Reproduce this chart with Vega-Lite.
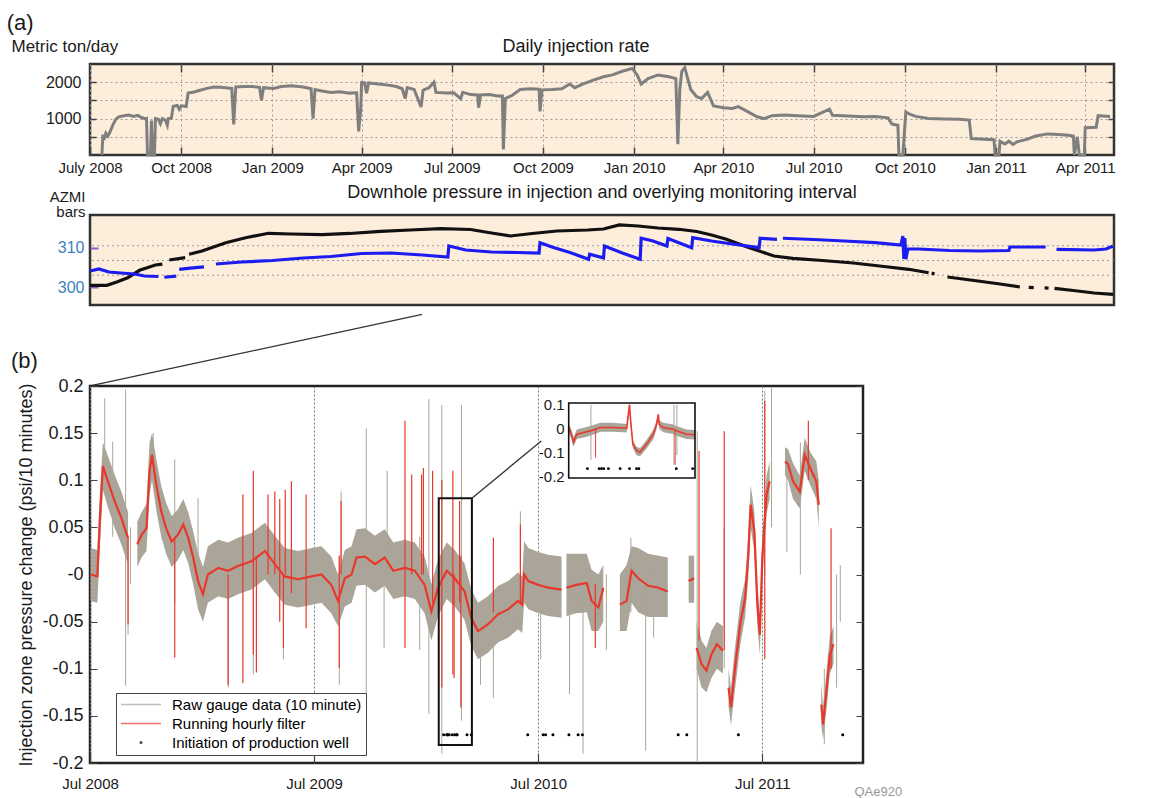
{
"$schema": "https://vega.github.io/schema/vega-lite/v6.json",
"background": "white",
"padding": {"left": 6, "top": 11, "right": 5, "bottom": 1},
"bounds": "flush",
"spacing": 10,
"title": {"text": "(a)", "anchor": "start", "frame": "bounds", "fontSize": 22, "fontWeight": "normal", "offset": 1, "dx": -3, "color": "#1a1a1a"},
"config": {
  "font": "Liberation Sans",
  "axis": {"labelFont": "Liberation Sans", "titleFont": "Liberation Sans", "titleFontWeight": "normal", "labelColor": "#1a1a1a", "titleColor": "#1a1a1a", "tickColor": "#444"},
  "title": {"font": "Liberation Sans", "fontWeight": "normal", "color": "#1a1a1a"},
  "legend": {"labelFont": "Liberation Sans"}
},
"datasets": {
  "rate": [
    {"d":"2008-07-13","v":0},{"d":"2008-07-14","v":560},{"d":"2008-07-15","v":420},{"d":"2008-07-17","v":600},{"d":"2008-07-19","v":520},{"d":"2008-07-21","v":620},{"d":"2008-07-24","v":820},{"d":"2008-07-27","v":980},{"d":"2008-07-30","v":1050},{"d":"2008-08-04","v":1080},{"d":"2008-08-09","v":1100},{"d":"2008-08-14","v":1060},{"d":"2008-08-18","v":1090},{"d":"2008-08-22","v":1030},{"d":"2008-08-26","v":990},{"d":"2008-08-27","v":1000},{"d":"2008-08-28","v":0},{"d":"2008-08-31","v":0},{"d":"2008-09-01","v":950},{"d":"2008-09-02","v":0},{"d":"2008-09-04","v":0},{"d":"2008-09-05","v":1000},{"d":"2008-09-08","v":980},{"d":"2008-09-10","v":860},{"d":"2008-09-12","v":1000},{"d":"2008-09-15","v":960},{"d":"2008-09-17","v":820},{"d":"2008-09-18","v":1000},{"d":"2008-09-21","v":1010},{"d":"2008-09-23","v":1340},{"d":"2008-09-27","v":1360},{"d":"2008-09-29","v":1260},{"d":"2008-10-01","v":1350},{"d":"2008-10-06","v":1330},{"d":"2008-10-08","v":1700},{"d":"2008-10-14","v":1730},{"d":"2008-10-20","v":1780},{"d":"2008-10-27","v":1830},{"d":"2008-11-03","v":1870},{"d":"2008-11-10","v":1860},{"d":"2008-11-17","v":1840},{"d":"2008-11-21","v":1830},{"d":"2008-11-23","v":840},{"d":"2008-11-25","v":1870},{"d":"2008-12-03","v":1880},{"d":"2008-12-12","v":1880},{"d":"2008-12-19","v":1860},{"d":"2008-12-21","v":1500},{"d":"2008-12-23","v":1850},{"d":"2009-01-02","v":1830},{"d":"2009-01-10","v":1880},{"d":"2009-01-20","v":1900},{"d":"2009-02-01","v":1870},{"d":"2009-02-09","v":1820},{"d":"2009-02-11","v":1000},{"d":"2009-02-13","v":1800},{"d":"2009-02-20","v":1760},{"d":"2009-03-01","v":1720},{"d":"2009-03-10","v":1740},{"d":"2009-03-20","v":1700},{"d":"2009-03-27","v":1710},{"d":"2009-03-29","v":650},{"d":"2009-03-31","v":1200},{"d":"2009-04-01","v":1990},{"d":"2009-04-04","v":1980},{"d":"2009-04-06","v":1700},{"d":"2009-04-08","v":1980},{"d":"2009-04-18","v":1950},{"d":"2009-04-28","v":1920},{"d":"2009-05-06","v":1880},{"d":"2009-05-12","v":1820},{"d":"2009-05-15","v":1550},{"d":"2009-05-17","v":1850},{"d":"2009-05-24","v":1800},{"d":"2009-05-31","v":1320},{"d":"2009-06-02","v":1780},{"d":"2009-06-08","v":1850},{"d":"2009-06-13","v":2000},{"d":"2009-06-15","v":1720},{"d":"2009-06-25","v":1700},{"d":"2009-07-03","v":1710},{"d":"2009-07-10","v":1550},{"d":"2009-07-12","v":1720},{"d":"2009-07-20","v":1660},{"d":"2009-07-27","v":1650},{"d":"2009-07-28","v":1300},{"d":"2009-07-30","v":1650},{"d":"2009-08-08","v":1660},{"d":"2009-08-16","v":1620},{"d":"2009-08-21","v":1620},{"d":"2009-08-22","v":150},{"d":"2009-08-24","v":1550},{"d":"2009-08-31","v":1640},{"d":"2009-09-08","v":1800},{"d":"2009-09-18","v":1820},{"d":"2009-09-27","v":1810},{"d":"2009-09-28","v":1200},{"d":"2009-09-30","v":1790},{"d":"2009-10-10","v":1800},{"d":"2009-10-20","v":1820},{"d":"2009-10-28","v":1950},{"d":"2009-11-02","v":1850},{"d":"2009-11-10","v":1950},{"d":"2009-11-20","v":2050},{"d":"2009-12-01","v":2150},{"d":"2009-12-10","v":2200},{"d":"2009-12-20","v":2300},{"d":"2009-12-30","v":2380},{"d":"2010-01-04","v":2200},{"d":"2010-01-08","v":1950},{"d":"2010-01-15","v":2100},{"d":"2010-01-25","v":2200},{"d":"2010-02-05","v":2150},{"d":"2010-02-12","v":2100},{"d":"2010-02-14","v":300},{"d":"2010-02-16","v":1800},{"d":"2010-02-18","v":2300},{"d":"2010-02-21","v":2400},{"d":"2010-02-24","v":2100},{"d":"2010-02-27","v":1800},{"d":"2010-03-05","v":1600},{"d":"2010-03-10","v":1550},{"d":"2010-03-16","v":1720},{"d":"2010-03-22","v":1350},{"d":"2010-04-01","v":1300},{"d":"2010-04-10","v":1280},{"d":"2010-04-16","v":1330},{"d":"2010-04-25","v":1200},{"d":"2010-05-05","v":1050},{"d":"2010-05-12","v":1000},{"d":"2010-05-20","v":1080},{"d":"2010-06-01","v":1100},{"d":"2010-06-15","v":1080},{"d":"2010-07-01","v":1060},{"d":"2010-07-17","v":1260},{"d":"2010-07-20","v":1090},{"d":"2010-08-05","v":1070},{"d":"2010-08-20","v":1050},{"d":"2010-09-01","v":1060},{"d":"2010-09-14","v":1020},{"d":"2010-09-18","v":850},{"d":"2010-09-24","v":820},{"d":"2010-09-25","v":0},{"d":"2010-09-29","v":0},{"d":"2010-10-02","v":1180},{"d":"2010-10-06","v":1120},{"d":"2010-10-12","v":1060},{"d":"2010-10-25","v":1000},{"d":"2010-11-10","v":990},{"d":"2010-11-25","v":980},{"d":"2010-12-05","v":960},{"d":"2010-12-07","v":450},{"d":"2010-12-20","v":430},{"d":"2010-12-30","v":420},{"d":"2010-12-31","v":0},{"d":"2011-01-04","v":0},{"d":"2011-01-05","v":380},{"d":"2011-01-10","v":300},{"d":"2011-01-14","v":380},{"d":"2011-01-18","v":290},{"d":"2011-01-22","v":360},{"d":"2011-02-01","v":430},{"d":"2011-02-10","v":520},{"d":"2011-02-22","v":580},{"d":"2011-03-05","v":560},{"d":"2011-03-15","v":540},{"d":"2011-03-20","v":520},{"d":"2011-03-21","v":0},{"d":"2011-03-24","v":500},{"d":"2011-03-26","v":0},{"d":"2011-03-31","v":0},{"d":"2011-04-01","v":750},{"d":"2011-04-12","v":760},{"d":"2011-04-14","v":1080},{"d":"2011-04-26","v":1060}
  ],
  "azmi": [
    {"d":"2008-07-01","v":304.18,"s":1},{"d":"2008-07-10","v":304.68,"s":1},{"d":"2008-07-20","v":303.92,"s":1},{"d":"2008-08-01","v":303.67,"s":1},{"d":"2008-08-15","v":303.42,"s":1},{"d":"2008-08-25","v":302.91,"s":1},{"d":"2008-09-08","v":302.78,"s":1},
    {"d":"2008-09-14","v":302.6,"s":2},{"d":"2008-09-26","v":302.9,"s":2},
    {"d":"2008-09-29","v":304.6,"s":3},{"d":"2008-10-10","v":304.9,"s":3},{"d":"2008-10-24","v":305.2,"s":3},
    {"d":"2008-11-05","v":305.95,"s":4},{"d":"2008-12-01","v":306.46,"s":4},{"d":"2009-01-01","v":306.84,"s":4},{"d":"2009-02-01","v":307.47,"s":4},{"d":"2009-03-01","v":307.85,"s":4},{"d":"2009-04-01","v":308.61,"s":4},{"d":"2009-05-01","v":308.73,"s":4},{"d":"2009-06-01","v":308.23,"s":4},{"d":"2009-06-27","v":307.72,"s":4},{"d":"2009-06-28","v":310.5,"s":4},{"d":"2009-07-15","v":309.49,"s":4},{"d":"2009-08-10","v":308.99,"s":4},{"d":"2009-09-05","v":308.86,"s":4},{"d":"2009-09-27","v":308.73,"s":4},{"d":"2009-09-28","v":311.34,"s":4},{"d":"2009-10-10","v":310.25,"s":4},{"d":"2009-10-29","v":308.8,"s":4},{"d":"2009-11-16","v":307.14,"s":4},{"d":"2009-11-17","v":308.4,"s":4},{"d":"2009-12-01","v":307.5,"s":4},{"d":"2009-12-02","v":310.5,"s":4},{"d":"2009-12-20","v":308.73,"s":4},{"d":"2010-01-07","v":307.14,"s":4},{"d":"2010-01-08","v":312.46,"s":4},{"d":"2010-01-20","v":311.77,"s":4},{"d":"2010-02-03","v":310.5,"s":4},{"d":"2010-02-04","v":312.4,"s":4},{"d":"2010-02-28","v":310.08,"s":4},{"d":"2010-03-01","v":312.6,"s":4},{"d":"2010-03-20","v":311.77,"s":4},{"d":"2010-04-10","v":311.01,"s":4},{"d":"2010-05-07","v":310.08,"s":4},{"d":"2010-05-08","v":312.46,"s":4},{"d":"2010-05-25","v":312.2,"s":4},
    {"d":"2010-05-31","v":312.46,"s":5},{"d":"2010-07-01","v":312.15,"s":5},{"d":"2010-08-01","v":311.77,"s":5},{"d":"2010-09-01","v":311.34,"s":5},{"d":"2010-09-27","v":310.76,"s":5},{"d":"2010-09-29","v":313.04,"s":5},{"d":"2010-09-30","v":307.2,"s":5},{"d":"2010-10-01","v":312.5,"s":5},{"d":"2010-10-02","v":307.14,"s":5},{"d":"2010-10-04","v":309.75,"s":5},{"d":"2010-10-15","v":309.75,"s":5},{"d":"2010-11-15","v":309.37,"s":5},{"d":"2010-12-15","v":309.24,"s":5},{"d":"2011-01-14","v":309.37,"s":5},{"d":"2011-01-15","v":310.25,"s":5},{"d":"2011-02-20","v":310.25,"s":5},
    {"d":"2011-03-03","v":309.67,"s":6},{"d":"2011-04-10","v":309.49,"s":6},{"d":"2011-04-22","v":309.75,"s":6},{"d":"2011-04-29","v":310.5,"s":6}
  ],
  "iz": [
    {"d":"2008-07-01","v":308,"s":1},{"d":"2008-07-18","v":308,"s":1},{"d":"2008-07-28","v":313.6,"s":1},{"d":"2008-08-08","v":320.8,"s":1},{"d":"2008-08-20","v":333.4,"s":1},{"d":"2008-09-05","v":342.4,"s":1},{"d":"2008-09-12","v":344,"s":1},
    {"d":"2008-09-19","v":350.8,"s":2},{"d":"2008-10-05","v":355,"s":2},
    {"d":"2008-10-09","v":360.5,"s":3},{"d":"2008-10-22","v":366,"s":3},{"d":"2008-11-15","v":380.2,"s":3},{"d":"2008-12-05","v":388.6,"s":3},{"d":"2008-12-28","v":396.1,"s":3},{"d":"2009-01-20","v":394.9,"s":3},{"d":"2009-02-20","v":394,"s":3},{"d":"2009-03-20","v":395.8,"s":3},{"d":"2009-04-20","v":399.2,"s":3},{"d":"2009-05-20","v":401.7,"s":3},{"d":"2009-06-20","v":403.9,"s":3},{"d":"2009-07-20","v":402.5,"s":3},{"d":"2009-08-10","v":396.6,"s":3},{"d":"2009-08-29","v":391.5,"s":3},{"d":"2009-09-20","v":395.8,"s":3},{"d":"2009-10-15","v":400,"s":3},{"d":"2009-11-15","v":401.7,"s":3},{"d":"2009-12-01","v":403.4,"s":3},{"d":"2009-12-17","v":410.2,"s":3},{"d":"2010-01-05","v":408.5,"s":3},{"d":"2010-01-25","v":405.1,"s":3},{"d":"2010-02-15","v":402.9,"s":3},{"d":"2010-03-05","v":399.2,"s":3},{"d":"2010-03-20","v":393.2,"s":3},{"d":"2010-04-04","v":385.9,"s":3},{"d":"2010-04-25","v":372.9,"s":3},{"d":"2010-05-22","v":357.6,"s":3},{"d":"2010-06-10","v":353.7,"s":3},{"d":"2010-07-10","v":350,"s":3},{"d":"2010-08-10","v":345.8,"s":3},{"d":"2010-09-10","v":339.8,"s":3},{"d":"2010-10-05","v":335.1,"s":3},{"d":"2010-10-25","v":329.3,"s":3},
    {"d":"2010-10-28","v":328.2,"s":4},{"d":"2010-10-31","v":327.8,"s":4},
    {"d":"2010-11-13","v":322,"s":5},{"d":"2010-12-10","v":316.1,"s":5},{"d":"2011-01-05","v":310.2,"s":5},{"d":"2011-01-25","v":305.1,"s":5},
    {"d":"2011-02-03","v":304.5,"s":6},{"d":"2011-02-08","v":304.0,"s":6},
    {"d":"2011-02-19","v":303.5,"s":7},{"d":"2011-02-23","v":303.2,"s":7},
    {"d":"2011-03-01","v":302.9,"s":8},{"d":"2011-03-20","v":299.2,"s":8},{"d":"2011-04-10","v":294.9,"s":8},{"d":"2011-04-29","v":292.7,"s":8}
  ],
  "red": [
    {"d":"2008-07-02","r":0.0,"lo":-0.028,"hi":0.028,"s":1},{"d":"2008-07-13","r":-0.002,"lo":-0.03,"hi":0.026,"s":1},{"d":"2008-07-17","r":0.057,"lo":0.03,"hi":0.085,"s":1},{"d":"2008-07-22","r":0.115,"lo":0.09,"hi":0.14,"s":1},{"d":"2008-07-30","r":0.099,"lo":0.072,"hi":0.126,"s":1},{"d":"2008-08-10","r":0.078,"lo":0.05,"hi":0.106,"s":1},{"d":"2008-08-21","r":0.06,"lo":0.032,"hi":0.088,"s":1},{"d":"2008-08-28","r":0.046,"lo":0.018,"hi":0.074,"s":1},{"d":"2008-09-01","r":0.039,"lo":0.012,"hi":0.066,"s":1},
    {"d":"2008-09-16","r":0.032,"lo":0.008,"hi":0.056,"s":2},{"d":"2008-09-23","r":0.042,"lo":0.018,"hi":0.066,"s":2},{"d":"2008-10-01","r":0.049,"lo":0.025,"hi":0.075,"s":2},{"d":"2008-10-06","r":0.11,"lo":0.085,"hi":0.14,"s":2},{"d":"2008-10-10","r":0.127,"lo":0.1,"hi":0.15,"s":2},{"d":"2008-10-17","r":0.095,"lo":0.068,"hi":0.122,"s":2},{"d":"2008-10-25","r":0.067,"lo":0.04,"hi":0.094,"s":2},{"d":"2008-11-02","r":0.049,"lo":0.022,"hi":0.076,"s":2},{"d":"2008-11-11","r":0.035,"lo":0.008,"hi":0.062,"s":2},{"d":"2008-11-21","r":0.042,"lo":0.015,"hi":0.069,"s":2},{"d":"2008-11-30","r":0.053,"lo":0.026,"hi":0.08,"s":2},{"d":"2008-12-08","r":0.039,"lo":0.012,"hi":0.066,"s":2},{"d":"2008-12-16","r":0.018,"lo":-0.01,"hi":0.046,"s":2},{"d":"2008-12-24","r":-0.007,"lo":-0.037,"hi":0.023,"s":2},{"d":"2009-01-01","r":-0.021,"lo":-0.05,"hi":0.008,"s":2},{"d":"2009-01-09","r":0.0,"lo":-0.03,"hi":0.03,"s":2},{"d":"2009-01-26","r":0.007,"lo":-0.023,"hi":0.037,"s":2},{"d":"2009-02-11","r":0.004,"lo":-0.026,"hi":0.034,"s":2},{"d":"2009-02-27","r":0.009,"lo":-0.021,"hi":0.039,"s":2},{"d":"2009-03-21","r":0.014,"lo":-0.016,"hi":0.044,"s":2},{"d":"2009-04-12","r":0.025,"lo":-0.005,"hi":0.055,"s":2},{"d":"2009-04-28","r":0.011,"lo":-0.019,"hi":0.041,"s":2},{"d":"2009-05-14","r":-0.002,"lo":-0.032,"hi":0.028,"s":2},{"d":"2009-06-05","r":-0.005,"lo":-0.035,"hi":0.025,"s":2},{"d":"2009-06-27","r":-0.002,"lo":-0.032,"hi":0.028,"s":2},{"d":"2009-07-13","r":0.0,"lo":-0.03,"hi":0.03,"s":2},{"d":"2009-07-29","r":-0.011,"lo":-0.041,"hi":0.019,"s":2},{"d":"2009-08-09","r":-0.028,"lo":-0.055,"hi":0.0,"s":2},{"d":"2009-08-20","r":-0.004,"lo":-0.034,"hi":0.026,"s":2},{"d":"2009-08-31","r":0.0,"lo":-0.03,"hi":0.03,"s":2},{"d":"2009-09-08","r":0.018,"lo":-0.012,"hi":0.048,"s":2},{"d":"2009-09-22","r":0.019,"lo":-0.011,"hi":0.049,"s":2},{"d":"2009-10-08","r":0.011,"lo":-0.019,"hi":0.041,"s":2},{"d":"2009-10-24","r":0.018,"lo":-0.012,"hi":0.048,"s":2},{"d":"2009-11-07","r":0.004,"lo":-0.026,"hi":0.034,"s":2},{"d":"2009-11-26","r":0.007,"lo":-0.023,"hi":0.037,"s":2},{"d":"2009-12-12","r":0.004,"lo":-0.026,"hi":0.034,"s":2},{"d":"2009-12-28","r":-0.011,"lo":-0.041,"hi":0.019,"s":2},{"d":"2010-01-08","r":-0.039,"lo":-0.07,"hi":-0.01,"s":2},{"d":"2010-01-19","r":-0.014,"lo":-0.044,"hi":0.016,"s":2},{"d":"2010-02-02","r":0.004,"lo":-0.026,"hi":0.034,"s":2},{"d":"2010-02-15","r":-0.004,"lo":-0.034,"hi":0.026,"s":2},{"d":"2010-03-03","r":-0.018,"lo":-0.048,"hi":0.012,"s":2},{"d":"2010-03-14","r":-0.046,"lo":-0.076,"hi":-0.016,"s":2},{"d":"2010-03-25","r":-0.06,"lo":-0.09,"hi":-0.03,"s":2},{"d":"2010-04-10","r":-0.053,"lo":-0.083,"hi":-0.023,"s":2},{"d":"2010-04-27","r":-0.042,"lo":-0.072,"hi":-0.012,"s":2},{"d":"2010-05-13","r":-0.037,"lo":-0.067,"hi":-0.007,"s":2},{"d":"2010-05-29","r":-0.028,"lo":-0.058,"hi":0.002,"s":2},{"d":"2010-06-05","r":-0.032,"lo":-0.062,"hi":-0.002,"s":2},{"d":"2010-06-08","r":0.0,"lo":-0.03,"hi":0.035,"s":2},{"d":"2010-06-15","r":-0.007,"lo":-0.037,"hi":0.028,"s":2},{"d":"2010-07-01","r":-0.011,"lo":-0.041,"hi":0.024,"s":2},{"d":"2010-07-17","r":-0.014,"lo":-0.044,"hi":0.021,"s":2},{"d":"2010-08-08","r":-0.016,"lo":-0.046,"hi":0.019,"s":2},
    {"d":"2010-08-16","r":-0.014,"lo":-0.044,"hi":0.022,"s":3},{"d":"2010-09-01","r":-0.011,"lo":-0.041,"hi":0.022,"s":3},{"d":"2010-09-18","r":-0.009,"lo":-0.04,"hi":0.022,"s":3},{"d":"2010-09-26","r":-0.028,"lo":-0.06,"hi":0.005,"s":3},{"d":"2010-10-07","r":-0.035,"lo":-0.06,"hi":0.0,"s":3},{"d":"2010-10-15","r":-0.014,"lo":-0.05,"hi":0.01,"s":3},
    {"d":"2010-11-11","r":-0.032,"lo":-0.06,"hi":0.0,"s":4},{"d":"2010-11-22","r":-0.028,"lo":-0.06,"hi":0.01,"s":4},{"d":"2010-11-30","r":0.004,"lo":-0.03,"hi":0.03,"s":4},{"d":"2010-12-11","r":-0.004,"lo":-0.04,"hi":0.028,"s":4},{"d":"2010-12-27","r":-0.012,"lo":-0.045,"hi":0.022,"s":4},{"d":"2011-01-13","r":-0.014,"lo":-0.045,"hi":0.02,"s":4},{"d":"2011-01-28","r":-0.018,"lo":-0.045,"hi":0.018,"s":4},
    {"d":"2011-03-03","r":-0.007,"lo":-0.03,"hi":0.02,"s":5},{"d":"2011-03-12","r":-0.004,"lo":-0.03,"hi":0.02,"s":5},
    {"d":"2011-03-16","r":-0.078,"lo":-0.1,"hi":-0.05,"s":6},{"d":"2011-03-24","r":-0.095,"lo":-0.12,"hi":-0.07,"s":6},{"d":"2011-04-01","r":-0.102,"lo":-0.125,"hi":-0.078,"s":6},{"d":"2011-04-09","r":-0.085,"lo":-0.11,"hi":-0.06,"s":6},{"d":"2011-04-18","r":-0.074,"lo":-0.1,"hi":-0.05,"s":6},{"d":"2011-04-28","r":-0.081,"lo":-0.105,"hi":-0.055,"s":6},
    {"d":"2011-05-07","r":-0.12,"lo":-0.14,"hi":-0.1,"s":7},{"d":"2011-05-11","r":-0.141,"lo":-0.16,"hi":-0.12,"s":7},{"d":"2011-05-17","r":-0.102,"lo":-0.125,"hi":-0.08,"s":7},{"d":"2011-05-26","r":-0.053,"lo":-0.075,"hi":-0.03,"s":7},{"d":"2011-06-03","r":-0.025,"lo":-0.045,"hi":-0.005,"s":7},{"d":"2011-06-08","r":0.018,"lo":-0.005,"hi":0.04,"s":7},{"d":"2011-06-12","r":0.074,"lo":0.05,"hi":0.095,"s":7},{"d":"2011-06-18","r":0.046,"lo":0.025,"hi":0.068,"s":7},{"d":"2011-06-23","r":-0.032,"lo":-0.055,"hi":-0.01,"s":7},{"d":"2011-06-27","r":-0.064,"lo":-0.085,"hi":-0.045,"s":7},{"d":"2011-07-01","r":0.018,"lo":-0.005,"hi":0.04,"s":7},{"d":"2011-07-08","r":0.085,"lo":0.065,"hi":0.105,"s":7},{"d":"2011-07-13","r":0.099,"lo":0.08,"hi":0.12,"s":7},
    {"d":"2011-08-07","r":0.12,"lo":0.105,"hi":0.135,"s":8},{"d":"2011-08-12","r":0.117,"lo":0.1,"hi":0.133,"s":8},{"d":"2011-08-20","r":0.099,"lo":0.08,"hi":0.118,"s":8},{"d":"2011-08-31","r":0.088,"lo":0.07,"hi":0.105,"s":8},{"d":"2011-09-08","r":0.127,"lo":0.11,"hi":0.145,"s":8},{"d":"2011-09-17","r":0.113,"lo":0.095,"hi":0.13,"s":8},{"d":"2011-09-27","r":0.099,"lo":0.08,"hi":0.12,"s":8},{"d":"2011-10-01","r":0.074,"lo":0.05,"hi":0.1,"s":8},
    {"d":"2011-10-05","r":-0.138,"lo":-0.16,"hi":-0.115,"s":9},{"d":"2011-10-08","r":-0.159,"lo":-0.175,"hi":-0.14,"s":9},{"d":"2011-10-14","r":-0.12,"lo":-0.14,"hi":-0.1,"s":9},{"d":"2011-10-19","r":-0.085,"lo":-0.105,"hi":-0.065,"s":9},{"d":"2011-10-25","r":-0.074,"lo":-0.095,"hi":-0.055,"s":9}
  ],
  "rawspk": [
    {"d":"2008-07-25","a":0.187,"b":0.09},{"d":"2008-08-07","a":0.141,"b":0.04},{"d":"2008-08-28","a":0.196,"b":-0.118},{"d":"2008-09-01","a":0.04,"b":-0.064},{"d":"2008-09-05","a":0.05,"b":-0.01},{"d":"2008-10-12","a":0.15,"b":0.1},{"d":"2008-11-16","a":0.122,"b":-0.03},{"d":"2008-12-24","a":0.081,"b":-0.03},{"d":"2009-02-11","a":0.03,"b":-0.12},{"d":"2009-03-24","a":0.02,"b":-0.106},{"d":"2009-05-12","a":0.02,"b":-0.09},{"d":"2009-08-11","a":0.02,"b":-0.117},{"d":"2009-08-14","a":0.088,"b":0.0},{"d":"2009-09-24","a":0.155,"b":-0.163},{"d":"2009-10-23","a":0.0,"b":-0.078},{"d":"2009-10-28","a":0.11,"b":0.0},{"d":"2009-12-20","a":0.04,"b":-0.08},{"d":"2010-01-04","a":0.186,"b":-0.148},{"d":"2010-01-25","a":0.18,"b":-0.19},{"d":"2010-02-26","a":0.18,"b":-0.155},{"d":"2010-03-29","a":-0.05,"b":-0.117},{"d":"2010-04-19","a":-0.03,"b":-0.131},{"d":"2010-06-02","a":0.067,"b":-0.05},{"d":"2010-07-05","a":0.02,"b":-0.09},{"d":"2010-08-21","a":-0.02,"b":-0.127},{"d":"2010-09-12","a":-0.02,"b":-0.19},{"d":"2010-10-20","a":0.0,"b":-0.08},{"d":"2010-11-29","a":0.039,"b":-0.04},{"d":"2010-12-23","a":-0.01,"b":-0.187},{"d":"2011-01-05","a":0.0,"b":-0.067},{"d":"2011-03-17","a":0.152,"b":-0.198},{"d":"2011-04-30","a":0.05,"b":-0.1},{"d":"2011-07-05","a":0.195,"b":0.0},{"d":"2011-07-16","a":0.198,"b":0.05},{"d":"2011-08-10","a":0.12,"b":0.024},{"d":"2011-09-01","a":0.14,"b":0.0},{"d":"2011-10-10","a":-0.1,"b":-0.18},{"d":"2011-10-30","a":0.0,"b":-0.12},{"d":"2011-11-05","a":0.01,"b":-0.05}
  ],
  "redspk": [
    {"d":"2008-09-01","a":0.04,"b":-0.053},{"d":"2008-11-16","a":0.04,"b":-0.088},{"d":"2009-02-11","a":0.0,"b":-0.117},{"d":"2009-03-07","a":0.085,"b":-0.115},{"d":"2009-03-24","a":0.11,"b":-0.085},{"d":"2009-03-29","a":0.02,"b":-0.104},{"d":"2009-04-17","a":0.085,"b":0.0},{"d":"2009-04-28","a":0.088,"b":0.0},{"d":"2009-05-06","a":0.08,"b":-0.05},{"d":"2009-05-12","a":0.0,"b":-0.078},{"d":"2009-05-15","a":0.09,"b":0.0},{"d":"2009-05-25","a":0.099,"b":-0.02},{"d":"2009-06-18","a":0.085,"b":-0.057},{"d":"2009-08-11","a":0.02,"b":-0.099},{"d":"2009-08-14","a":0.078,"b":0.0},{"d":"2009-11-26","a":0.163,"b":-0.078},{"d":"2009-12-07","a":0.106,"b":0.0},{"d":"2009-12-23","a":0.106,"b":0.0},{"d":"2009-12-26","a":0.113,"b":0.0},{"d":"2010-01-10","a":0.11,"b":-0.03},{"d":"2010-01-25","a":0.1,"b":-0.12},{"d":"2010-02-12","a":0.11,"b":-0.106},{"d":"2010-02-14","a":0.0,"b":-0.11},{"d":"2010-02-23","a":0.078,"b":-0.03},{"d":"2010-02-25","a":0.02,"b":-0.141},{"d":"2010-04-19","a":0.039,"b":-0.04},{"d":"2010-06-02","a":0.053,"b":-0.03},{"d":"2010-10-02","a":-0.01,"b":-0.078},{"d":"2011-03-20","a":0.131,"b":-0.07},{"d":"2011-04-30","a":0.152,"b":-0.08},{"d":"2011-07-05","a":0.184,"b":-0.09},{"d":"2011-09-14","a":0.163,"b":0.1},{"d":"2011-10-21","a":0.049,"b":-0.1}
  ],
  "wells": [
    {"d":"2010-01-28","v":-0.17},{"d":"2010-02-02","v":-0.17},{"d":"2010-02-03","v":-0.17},{"d":"2010-02-04","v":-0.17},{"d":"2010-02-06","v":-0.17},{"d":"2010-02-11","v":-0.17},{"d":"2010-02-15","v":-0.17},{"d":"2010-02-18","v":-0.17},{"d":"2010-02-19","v":-0.17},{"d":"2010-03-07","v":-0.17},{"d":"2010-03-14","v":-0.17},{"d":"2010-06-14","v":-0.17},{"d":"2010-07-09","v":-0.17},{"d":"2010-07-13","v":-0.17},{"d":"2010-07-25","v":-0.17},{"d":"2010-08-20","v":-0.17},{"d":"2010-09-04","v":-0.17},{"d":"2010-09-11","v":-0.17},{"d":"2011-02-14","v":-0.17},{"d":"2011-02-28","v":-0.17},{"d":"2011-05-23","v":-0.17},{"d":"2011-11-09","v":-0.17}
  ],
  "inset": [
    {"d":"2010-01-20T00:00:00Z","r":0.005,"lo":-0.015,"hi":0.025},{"d":"2010-01-21T10:00:00Z","r":-0.03,"lo":-0.05,"hi":-0.01},{"d":"2010-01-22T00:00:00Z","r":-0.057,"lo":-0.075,"hi":-0.035},{"d":"2010-01-23T12:00:00Z","r":-0.023,"lo":-0.043,"hi":-0.003},{"d":"2010-01-26T10:00:00Z","r":-0.016,"lo":-0.036,"hi":0.004},{"d":"2010-01-29T05:00:00Z","r":-0.009,"lo":-0.029,"hi":0.011},{"d":"2010-01-31T07:00:00Z","r":-0.002,"lo":-0.022,"hi":0.018},{"d":"2010-02-02T12:00:00Z","r":0.005,"lo":-0.013,"hi":0.025},{"d":"2010-02-08T00:00:00Z","r":0.005,"lo":-0.013,"hi":0.025},{"d":"2010-02-13T19:00:00Z","r":0.002,"lo":-0.016,"hi":0.02},{"d":"2010-02-14T12:00:00Z","r":0.059,"lo":0.045,"hi":0.07},{"d":"2010-02-15T00:00:00Z","r":0.1,"lo":0.085,"hi":0.105},{"d":"2010-02-15T12:00:00Z","r":0.032,"lo":0.02,"hi":0.045},{"d":"2010-02-16T10:00:00Z","r":-0.064,"lo":-0.08,"hi":-0.05},{"d":"2010-02-18T00:00:00Z","r":-0.091,"lo":-0.11,"hi":-0.075},{"d":"2010-02-19T12:00:00Z","r":-0.098,"lo":-0.115,"hi":-0.08},{"d":"2010-02-22T08:00:00Z","r":-0.064,"lo":-0.082,"hi":-0.046},{"d":"2010-02-25T05:00:00Z","r":-0.023,"lo":-0.043,"hi":-0.003},{"d":"2010-02-26T14:00:00Z","r":0.018,"lo":0.0,"hi":0.035},{"d":"2010-02-27T07:00:00Z","r":0.059,"lo":0.045,"hi":0.07},{"d":"2010-02-27T17:00:00Z","r":0.018,"lo":0.0,"hi":0.035},{"d":"2010-03-01T10:00:00Z","r":0.005,"lo":-0.015,"hi":0.025},{"d":"2010-03-05T17:00:00Z","r":-0.002,"lo":-0.022,"hi":0.018},{"d":"2010-03-07T00:00:00Z","r":-0.009,"lo":-0.029,"hi":0.011},{"d":"2010-03-11T10:00:00Z","r":-0.023,"lo":-0.043,"hi":-0.003},{"d":"2010-03-15T00:00:00Z","r":-0.025,"lo":-0.045,"hi":-0.005}
  ],
  "insetraw": [
    {"d":"2010-01-29T12:00:00Z","a":0.1,"b":-0.13},{"d":"2010-03-06T00:00:00Z","a":0.1,"b":-0.15},{"d":"2010-03-07T06:00:00Z","a":0.1,"b":-0.11}
  ],
  "insetred": [
    {"d":"2010-01-31T12:00:00Z","a":0.0,"b":-0.12},{"d":"2010-03-06T12:00:00Z","a":0.0,"b":-0.15}
  ],
  "insetwells": [
    {"d":"2010-01-28","v":-0.166},{"d":"2010-02-02","v":-0.166},{"d":"2010-02-03","v":-0.166},{"d":"2010-02-04","v":-0.166},{"d":"2010-02-06","v":-0.166},{"d":"2010-02-11","v":-0.166},{"d":"2010-02-15","v":-0.166},{"d":"2010-02-18","v":-0.166},{"d":"2010-02-19","v":-0.166},{"d":"2010-03-07","v":-0.166},{"d":"2010-03-14","v":-0.166}
  ],
  "insetlabels": [
    {"d":"2010-01-20","v":0.1,"t":"0.1"},{"d":"2010-01-20","v":0,"t":"0"},{"d":"2010-01-20","v":-0.1,"t":"-0.1"},{"d":"2010-01-20","v":-0.2,"t":"-0.2"}
  ]
},
"vconcat": [
  {
    "width": 1024, "height": 91,
    "title": {"text": "Daily injection rate", "fontSize": 18, "anchor": "middle", "frame": "group", "offset": -19, "dx": -26},
    "view": {"fill": "#fdeedb", "stroke": "#333", "strokeWidth": 2.5},
    "data": {"name": "rate"},
    "layer": [
      {"mark": {"type": "line", "color": "#7f7f7f", "strokeWidth": 3},
       "encoding": {
        "x": {"field": "d", "type": "temporal",
          "scale": {"type": "utc", "domain": [{"year":2008,"month":7,"date":1,"utc":true},{"year":2011,"month":4,"date":30,"utc":true}]},
          "axis": {"orient": "bottom", "values": [{"year":2008,"month":7,"date":1,"utc":true},{"year":2008,"month":10,"date":1,"utc":true},{"year":2009,"month":1,"date":1,"utc":true},{"year":2009,"month":4,"date":1,"utc":true},{"year":2009,"month":7,"date":1,"utc":true},{"year":2009,"month":10,"date":1,"utc":true},{"year":2010,"month":1,"date":1,"utc":true},{"year":2010,"month":4,"date":1,"utc":true},{"year":2010,"month":7,"date":1,"utc":true},{"year":2010,"month":10,"date":1,"utc":true},{"year":2011,"month":1,"date":1,"utc":true},{"year":2011,"month":4,"date":1,"utc":true}],
            "format": "%b %Y", "labelExpr": "datum.label == 'Jul 2008' ? 'July 2008' : datum.label",
            "labelFlush": false, "labelOverlap": false, "grid": true, "gridDash": [2,3], "gridColor": "#9a9a9a",
            "tickSize": -8, "tickWidth": 1.5, "labelPadding": 13, "labelFontSize": 15, "domain": false, "title": null}},
        "y": {"field": "v", "type": "quantitative",
          "scale": {"domain": [0, 2500], "nice": false},
          "axis": {"orient": "left", "values": [500, 1000, 1500, 2000], "format": "d", "labelExpr": "datum.value == 1000 || datum.value == 2000 ? datum.label : ''",
            "grid": true, "gridDash": [2,3], "gridColor": "#9a9a9a", "tickSize": -6, "tickWidth": 1.5, "labelPadding": 15, "labelFontSize": 16, "domain": false,
            "title": "Metric ton/day", "titleAngle": 0, "titleAlign": "left", "titleBaseline": "alphabetic", "titleX": -79, "titleY": -13, "titleFontSize": 17}}
       }},
      {"mark": {"type": "point", "opacity": 0},
       "encoding": {
        "x": {"field": "d", "type": "temporal",
          "scale": {"type": "utc", "domain": [{"year":2008,"month":7,"date":1,"utc":true},{"year":2011,"month":4,"date":30,"utc":true}]},
          "axis": {"orient": "top", "values": [{"year":2008,"month":10,"date":1,"utc":true},{"year":2009,"month":1,"date":1,"utc":true},{"year":2009,"month":4,"date":1,"utc":true},{"year":2009,"month":7,"date":1,"utc":true},{"year":2009,"month":10,"date":1,"utc":true},{"year":2010,"month":1,"date":1,"utc":true},{"year":2010,"month":4,"date":1,"utc":true},{"year":2010,"month":7,"date":1,"utc":true},{"year":2010,"month":10,"date":1,"utc":true},{"year":2011,"month":1,"date":1,"utc":true},{"year":2011,"month":4,"date":1,"utc":true}],
            "labels": false, "grid": false, "tickSize": -8, "tickWidth": 1.5, "domain": false, "title": null}},
        "y": {"field": "v", "type": "quantitative",
          "scale": {"domain": [0, 2500], "nice": false},
          "axis": {"orient": "right", "values": [500, 1000, 1500, 2000], "labels": false, "grid": false, "tickSize": -6, "tickWidth": 1.5, "domain": false, "title": null}}
       }}
    ],
    "resolve": {"axis": {"x": "independent", "y": "independent"}}
  },
  {"width": 1, "height": 40, "view": {"stroke": null, "fill": null}, "data": {"values": [{"z": 0}]}, "mark": {"type": "point", "opacity": 0}},
  {
    "width": 1024, "height": 90,
    "title": {"text": "Downhole pressure in injection and overlying monitoring interval", "fontSize": 18, "anchor": "middle", "frame": "group", "offset": -13},
    "view": {"fill": "#fdeedb", "stroke": "#333", "strokeWidth": 2.5},
    "layer": [
      {"layer": [
        {"data": {"values": [{"g":325},{"g":350},{"g":375}]},
         "mark": {"type": "rule", "strokeDash": [2,3], "color": "#9a9a9a", "strokeWidth": 1},
         "encoding": {"y": {"field": "g", "type": "quantitative", "scale": {"domain": [274.6, 427.1], "nice": false, "zero": false}, "axis": null}}},
        {"data": {"name": "iz"},
         "mark": {"type": "line", "color": "#111", "strokeWidth": 3.2},
         "encoding": {
           "x": {"field": "d", "type": "temporal",
             "scale": {"type": "utc", "domain": [{"year":2008,"month":7,"date":1,"utc":true},{"year":2011,"month":4,"date":30,"utc":true}]},
             "axis": {"values": [{"year":2008,"month":7,"date":1,"utc":true},{"year":2008,"month":10,"date":1,"utc":true},{"year":2009,"month":1,"date":1,"utc":true},{"year":2009,"month":4,"date":1,"utc":true},{"year":2009,"month":7,"date":1,"utc":true},{"year":2009,"month":10,"date":1,"utc":true},{"year":2010,"month":1,"date":1,"utc":true},{"year":2010,"month":4,"date":1,"utc":true},{"year":2010,"month":7,"date":1,"utc":true},{"year":2010,"month":10,"date":1,"utc":true},{"year":2011,"month":1,"date":1,"utc":true},{"year":2011,"month":4,"date":1,"utc":true}],
               "format": "%b %Y", "labelExpr": "datum.label == 'Jul 2008' ? 'July 2008' : datum.label",
               "labelFlush": false, "labelOverlap": false, "grid": true, "gridDash": [2,3], "gridColor": "#9a9a9a",
               "tickSize": -8, "tickWidth": 1.5, "labelPadding": 13, "labelFontSize": 15, "domain": false, "title": null}},
           "y": {"field": "v", "type": "quantitative", "scale": {"domain": [274.6, 427.1], "nice": false, "zero": false},
             "axis": {"orient": "right", "values": [300, 350, 400], "format": "d", "tickSize": -6, "labelPadding": 16, "labelFontSize": 16, "domain": false, "grid": false,
               "title": ["IZ", "bars"], "titleAngle": 0, "titleAlign": "center", "titleBaseline": "alphabetic", "titleX": 18, "titleY": -15, "titleFontSize": 15, "titleLineHeight": 15.5}},
           "detail": {"field": "s"}
         }},
        {"data": {"values": [{"d":"2008-07-01","v":137.4},{"d":"2009-06-01","v":258.8}]},
         "mark": {"type": "line", "color": "#333", "strokeWidth": 1.3, "clip": false},
         "encoding": {
           "x": {"field": "d", "type": "temporal", "scale": {"type": "utc", "domain": [{"year":2008,"month":7,"date":1,"utc":true},{"year":2011,"month":4,"date":30,"utc":true}]}, "axis": null},
           "y": {"field": "v", "type": "quantitative", "scale": {"domain": [274.6, 427.1], "nice": false, "zero": false}, "axis": null}
         }}
      ]},
      {"data": {"name": "azmi"},
       "mark": {"type": "line", "color": "#1c1cf0", "strokeWidth": 3.2},
       "encoding": {
         "x": {"field": "d", "type": "temporal", "scale": {"type": "utc", "domain": [{"year":2008,"month":7,"date":1,"utc":true},{"year":2011,"month":4,"date":30,"utc":true}]}, "axis": null},
         "y": {"field": "v", "type": "quantitative", "scale": {"domain": [295.57, 318.35], "nice": false, "zero": false},
           "axis": {"orient": "left", "values": [300, 310], "format": "d", "tickSize": -8, "tickColor": "#8a5cc8", "tickWidth": 2, "labelColor": "#3b7fc2", "labelFontSize": 16, "labelPadding": 14, "domain": false, "grid": false,
             "title": ["AZMI", "bars"], "titleAngle": 0, "titleAlign": "right", "titleBaseline": "alphabetic", "titleX": -5, "titleY": -14, "titleFontSize": 15, "titleLineHeight": 15.5}},
         "detail": {"field": "s"}
       }}
    ],
    "resolve": {"scale": {"y": "independent"}}
  },
  {"width": 1, "height": 61, "view": {"stroke": null, "fill": null}, "data": {"values": [{"z": 0}]}, "mark": {"type": "point", "opacity": 0}},
  {
    "width": 773, "height": 377,
    "title": {"text": "(b)", "anchor": "start", "frame": "bounds", "fontSize": 22, "offset": 4, "dx": -6},
    "view": {"fill": "white", "stroke": "#222", "strokeWidth": 2.5},
    "layer": [
      {"data": {"name": "red"},
       "mark": {"type": "area", "color": "#aaa598"},
       "encoding": {
         "x": {"field": "d", "type": "temporal", "scale": {"type": "utc", "domain": [{"year":2008,"month":7,"date":1,"utc":true},{"year":2011,"month":12,"date":12,"utc":true}]},
           "axis": {"orient": "bottom", "values": [{"year":2008,"month":7,"date":1,"utc":true},{"year":2009,"month":7,"date":1,"utc":true},{"year":2010,"month":7,"date":1,"utc":true},{"year":2011,"month":7,"date":1,"utc":true}],
             "format": "%b %Y", "labelFlush": false, "labelOverlap": false, "grid": true, "gridDash": [2,2], "gridColor": "#777",
             "tickSize": -10, "tickWidth": 1.2, "labelPadding": 23, "labelFontSize": 15, "domain": false,
             "title": "QAe920", "titleFontSize": 13, "titleColor": "#999", "titleX": 764, "titleY": 32, "titleAlign": "left", "titleBaseline": "alphabetic"}},
         "y": {"field": "lo", "type": "quantitative", "scale": {"domain": [-0.2, 0.2], "nice": false},
           "axis": {"orient": "left", "values": [-0.2,-0.15,-0.1,-0.05,0,0.05,0.1,0.15,0.2], "format": "~g",
             "labelExpr": "datum.value == 0 ? '-0' : replace(datum.label, '\u2212', '-')",
             "tickSize": -7, "labelPadding": 14, "labelFontSize": 18, "domain": false, "grid": false,
             "title": "Injection zone pressure change (psi/10 minutes)", "titleFontSize": 18, "titleAngle": -90, "titleX": -64, "titleY": 188.5, "titleAlign": "center", "titleBaseline": "middle"}},
         "y2": {"field": "hi"},
         "detail": {"field": "s"}
       }},
      {"data": {"name": "rawspk"},
       "mark": {"type": "rule", "color": "#aaa598", "strokeWidth": 1},
       "encoding": {
         "x": {"field": "d", "type": "temporal", "scale": {"type": "utc", "domain": [{"year":2008,"month":7,"date":1,"utc":true},{"year":2011,"month":12,"date":12,"utc":true}]}, "axis": null},
         "y": {"field": "a", "type": "quantitative", "scale": {"domain": [-0.2, 0.2], "nice": false}, "axis": null},
         "y2": {"field": "b"}
       }},
      {"data": {"name": "redspk"},
       "mark": {"type": "rule", "color": "#e8382b", "strokeWidth": 1.2},
       "encoding": {
         "x": {"field": "d", "type": "temporal", "scale": {"type": "utc", "domain": [{"year":2008,"month":7,"date":1,"utc":true},{"year":2011,"month":12,"date":12,"utc":true}]}, "axis": null},
         "y": {"field": "a", "type": "quantitative", "scale": {"domain": [-0.2, 0.2], "nice": false}, "axis": null},
         "y2": {"field": "b"}
       }},
      {"data": {"name": "red"},
       "mark": {"type": "line", "color": "#e8382b", "strokeWidth": 2.2},
       "encoding": {
         "x": {"field": "d", "type": "temporal", "scale": {"type": "utc", "domain": [{"year":2008,"month":7,"date":1,"utc":true},{"year":2011,"month":12,"date":12,"utc":true}]}, "axis": null},
         "y": {"field": "r", "type": "quantitative", "scale": {"domain": [-0.2, 0.2], "nice": false},
           "axis": {"orient": "right", "values": [-0.2,-0.15,-0.1,-0.05,0,0.05,0.1,0.15,0.2], "labels": false, "tickSize": -7, "domain": false, "grid": false, "title": null}},
         "detail": {"field": "s"}
       }},
      {"data": {"name": "wells"},
       "mark": {"type": "point", "filled": true, "color": "#000", "size": 9, "opacity": 1},
       "encoding": {
         "x": {"field": "d", "type": "temporal", "scale": {"type": "utc", "domain": [{"year":2008,"month":7,"date":1,"utc":true},{"year":2011,"month":12,"date":12,"utc":true}]}, "axis": null},
         "y": {"field": "v", "type": "quantitative", "scale": {"domain": [-0.2, 0.2], "nice": false}, "axis": null}
       }},
      {"data": {"values": [{"a":"2010-01-20","b":"2010-03-15","y1":0.081,"y2":-0.181}]},
       "mark": {"type": "rect", "filled": false, "stroke": "#111", "strokeWidth": 2},
       "encoding": {
         "x": {"field": "a", "type": "temporal", "scale": {"type": "utc", "domain": [{"year":2008,"month":7,"date":1,"utc":true},{"year":2011,"month":12,"date":12,"utc":true}]}, "axis": null},
         "x2": {"field": "b"},
         "y": {"field": "y1", "type": "quantitative", "scale": {"domain": [-0.2, 0.2], "nice": false}, "axis": null},
         "y2": {"field": "y2"}
       }},
      {"data": {"values": [{"d":"2010-03-15","v":0.081},{"d":"2010-07-06","v":0.1416}]},
       "mark": {"type": "line", "color": "#333", "strokeWidth": 1.3, "clip": false},
       "encoding": {
         "x": {"field": "d", "type": "temporal", "scale": {"type": "utc", "domain": [{"year":2008,"month":7,"date":1,"utc":true},{"year":2011,"month":12,"date":12,"utc":true}]}, "axis": null},
         "y": {"field": "v", "type": "quantitative", "scale": {"domain": [-0.2, 0.2], "nice": false}, "axis": null}
       }},
      {"data": {"values": [{"d":"2008-10-01","v":-0.16,"k":"Raw gauge data (10 minute)"},{"d":"2008-10-01","v":-0.16,"k":"Running hourly filter"},{"d":"2008-10-01","v":-0.16,"k":"Initiation of production well"}]},
       "mark": {"type": "point", "filled": false, "size": 4, "strokeWidth": 1.5},
       "encoding": {
         "x": {"field": "d", "type": "temporal", "scale": {"type": "utc", "domain": [{"year":2008,"month":7,"date":1,"utc":true},{"year":2011,"month":12,"date":12,"utc":true}]}, "axis": null},
         "y": {"field": "v", "type": "quantitative", "scale": {"domain": [-0.2, 0.2], "nice": false}, "axis": null},
         "color": {"field": "k", "type": "nominal",
           "scale": {"domain": ["Raw gauge data (10 minute)", "Running hourly filter", "Initiation of production well"], "range": ["#aaa598", "#e8382b", "#000000"]},
           "legend": {"orient": "none", "legendX": 26, "legendY": 629, "title": null, "direction": "vertical", "padding": 4, "fillColor": "white", "strokeColor": "#444", "labelFontSize": 15, "symbolSize": 1600, "symbolStrokeWidth": 1.5, "clipHeight": 15, "rowPadding": 3, "labelOffset": 10, "labelLimit": 400}},
         "shape": {"field": "k", "type": "nominal",
           "scale": {"domain": ["Raw gauge data (10 minute)", "Running hourly filter", "Initiation of production well"], "range": ["M-1,0L1,0", "M-1,0L1,0", "M-0.04,0A0.04,0.04,0,1,0,0.04,0A0.04,0.04,0,1,0,-0.04,0Z"]},
           "legend": {"orient": "none", "legendX": 26, "legendY": 629, "title": null, "direction": "vertical", "padding": 4, "fillColor": "white", "strokeColor": "#444", "labelFontSize": 15, "symbolSize": 1600, "symbolStrokeWidth": 1.5, "clipHeight": 15, "rowPadding": 3, "labelOffset": 10, "labelLimit": 400}}
       }},
      {"data": {"values": [{"a":"2010-01-20","b":"2010-03-15","y1":-0.205,"y2":0.107}]},
       "mark": {"type": "rect", "color": "white"},
       "encoding": {
         "x": {"field": "a", "type": "temporal", "scale": {"type": "utc", "domain": [{"year":2010,"month":1,"date":20,"utc":true},{"year":2010,"month":3,"date":15,"utc":true}], "range": [478.7, 605]}, "axis": null},
         "x2": {"field": "b"},
         "y": {"field": "y1", "type": "quantitative", "scale": {"domain": [-0.205, 0.107], "nice": false, "zero": false, "range": [92, 17]}, "axis": null},
         "y2": {"field": "y2"}
       }},
      {"data": {"name": "inset"},
       "mark": {"type": "area", "color": "#aaa598"},
       "encoding": {
         "x": {"field": "d", "type": "temporal", "scale": {"type": "utc", "domain": [{"year":2010,"month":1,"date":20,"utc":true},{"year":2010,"month":3,"date":15,"utc":true}], "range": [478.7, 605]}, "axis": null},
         "y": {"field": "lo", "type": "quantitative", "scale": {"domain": [-0.205, 0.107], "nice": false, "zero": false, "range": [92, 17]}, "axis": null},
         "y2": {"field": "hi"}
       }},
      {"data": {"name": "insetraw"},
       "mark": {"type": "rule", "color": "#aaa598", "strokeWidth": 1},
       "encoding": {
         "x": {"field": "d", "type": "temporal", "scale": {"type": "utc", "domain": [{"year":2010,"month":1,"date":20,"utc":true},{"year":2010,"month":3,"date":15,"utc":true}], "range": [478.7, 605]}, "axis": null},
         "y": {"field": "a", "type": "quantitative", "scale": {"domain": [-0.205, 0.107], "nice": false, "zero": false, "range": [92, 17]}, "axis": null},
         "y2": {"field": "b"}
       }},
      {"data": {"name": "insetred"},
       "mark": {"type": "rule", "color": "#e8382b", "strokeWidth": 1},
       "encoding": {
         "x": {"field": "d", "type": "temporal", "scale": {"type": "utc", "domain": [{"year":2010,"month":1,"date":20,"utc":true},{"year":2010,"month":3,"date":15,"utc":true}], "range": [478.7, 605]}, "axis": null},
         "y": {"field": "a", "type": "quantitative", "scale": {"domain": [-0.205, 0.107], "nice": false, "zero": false, "range": [92, 17]}, "axis": null},
         "y2": {"field": "b"}
       }},
      {"data": {"name": "inset"},
       "mark": {"type": "line", "color": "#e8382b", "strokeWidth": 1.6},
       "encoding": {
         "x": {"field": "d", "type": "temporal", "scale": {"type": "utc", "domain": [{"year":2010,"month":1,"date":20,"utc":true},{"year":2010,"month":3,"date":15,"utc":true}], "range": [478.7, 605]}, "axis": null},
         "y": {"field": "r", "type": "quantitative", "scale": {"domain": [-0.205, 0.107], "nice": false, "zero": false, "range": [92, 17]}, "axis": null}
       }},
      {"data": {"name": "insetwells"},
       "mark": {"type": "point", "filled": true, "color": "#000", "size": 8, "opacity": 1},
       "encoding": {
         "x": {"field": "d", "type": "temporal", "scale": {"type": "utc", "domain": [{"year":2010,"month":1,"date":20,"utc":true},{"year":2010,"month":3,"date":15,"utc":true}], "range": [478.7, 605]}, "axis": null},
         "y": {"field": "v", "type": "quantitative", "scale": {"domain": [-0.205, 0.107], "nice": false, "zero": false, "range": [92, 17]}, "axis": null}
       }},
      {"data": {"values": [{"a":"2010-01-20","b":"2010-03-15","y1":-0.205,"y2":0.107}]},
       "mark": {"type": "rect", "filled": false, "stroke": "#111", "strokeWidth": 1.6},
       "encoding": {
         "x": {"field": "a", "type": "temporal", "scale": {"type": "utc", "domain": [{"year":2010,"month":1,"date":20,"utc":true},{"year":2010,"month":3,"date":15,"utc":true}], "range": [478.7, 605]}, "axis": null},
         "x2": {"field": "b"},
         "y": {"field": "y1", "type": "quantitative", "scale": {"domain": [-0.205, 0.107], "nice": false, "zero": false, "range": [92, 17]}, "axis": null},
         "y2": {"field": "y2"}
       }},
      {"data": {"name": "insetlabels"},
       "mark": {"type": "text", "align": "right", "baseline": "middle", "dx": -4, "fontSize": 15, "color": "#1a1a1a"},
       "encoding": {
         "x": {"field": "d", "type": "temporal", "scale": {"type": "utc", "domain": [{"year":2010,"month":1,"date":20,"utc":true},{"year":2010,"month":3,"date":15,"utc":true}], "range": [478.7, 605]}, "axis": null},
         "y": {"field": "v", "type": "quantitative", "scale": {"domain": [-0.205, 0.107], "nice": false, "zero": false, "range": [92, 17]}, "axis": null},
         "text": {"field": "t"}
       }}
    ],
    "resolve": {"scale": {"x": "independent", "y": "independent"}}
  }
]
}
